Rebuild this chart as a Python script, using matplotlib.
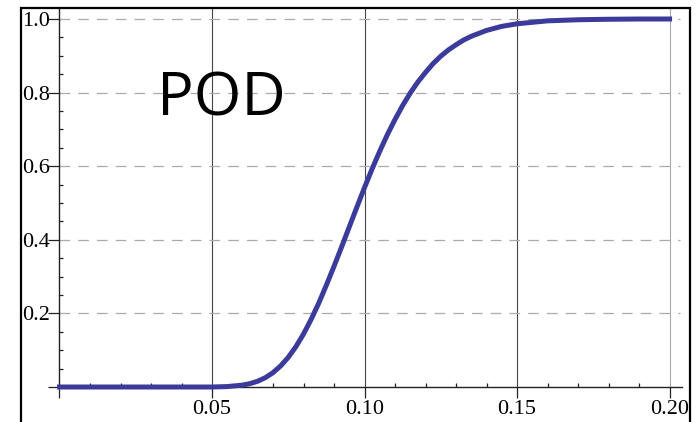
import matplotlib
matplotlib.use("Agg")
import matplotlib.pyplot as plt
from matplotlib.patches import Rectangle
from matplotlib.ticker import FixedLocator

# POD curve, values
size = [0.0, 0.05, 0.055, 0.06, 0.0625, 0.065, 0.0675, 0.07, 0.0725, 0.075,
        0.0775, 0.08, 0.0825, 0.085, 0.0875, 0.09, 0.0925, 0.095, 0.0975,
        0.10, 0.1025, 0.105, 0.1075, 0.11, 0.1125, 0.115, 0.1175, 0.12,
        0.1225, 0.125, 0.1275, 0.13, 0.1325, 0.135, 0.14, 0.145, 0.15,
        0.16, 0.17, 0.18, 0.19, 0.20]
pod = [0.0, 0.0, 0.0012, 0.0051, 0.0093, 0.0158, 0.0255, 0.039, 0.0573, 0.0806,
       0.1096, 0.144, 0.184, 0.228, 0.277, 0.328, 0.381, 0.435, 0.489,
       0.542, 0.593, 0.641, 0.686, 0.727, 0.765, 0.799, 0.829, 0.855,
       0.879, 0.899, 0.916, 0.930, 0.943, 0.953, 0.969, 0.980, 0.987,
       0.995, 0.998, 0.9993, 1.0, 1.0]

x_major = [0.0, 0.05, 0.10, 0.15, 0.20]
x_labels = ["", "0.05", "0.10", "0.15", "0.20"]
x_minor = [0.01, 0.02, 0.03, 0.04, 0.06, 0.07, 0.08, 0.09, 0.11, 0.12,
           0.13, 0.14, 0.16, 0.17, 0.18, 0.19]
y_major = [0.0, 0.2, 0.4, 0.6, 0.8, 1.0]
y_labels = ["", "0.2", "0.4", "0.6", "0.8", "1.0"]
y_minor = [0.05, 0.1, 0.15, 0.25, 0.3, 0.35, 0.45, 0.5, 0.55,
           0.65, 0.7, 0.75, 0.85, 0.9, 0.95]

W, H = 696, 422
fig = plt.figure(figsize=(W / 100, H / 100), dpi=100)
ax = fig.add_axes([21 / W, 0, 669 / W, 414 / H])
ax.set_xlim(-0.01262, 0.2067)
ax.set_ylim(-0.0951, 1.0299)

# grid: solid verticals, dashed horizontals, only inside the first quadrant
ax.vlines(x_major[1:4], 0, 1.04, colors="#444444", lw=0.8, zorder=1)
ax.vlines(x_major[4], 0, 1.04, colors="#aaaaaa", lw=0.8, zorder=1)
ax.hlines(y_major[1:], 0, 0.2034, colors="#aaaaaa", lw=0.9,
          linestyles=(0, (8.5, 6.5)), zorder=1)

ax.plot(size, pod, color="#3b3b9b", lw=3.6, solid_capstyle="projecting",
        zorder=3)

ax.text(0.032, 0.739, "POD", fontsize=44, family="Open Sans",
        ha="left", va="baseline", zorder=4)

# axes through the origin
for side in ("top", "right"):
    ax.spines[side].set_visible(False)
ax.spines["left"].set_position(("data", 0))
ax.spines["bottom"].set_position(("data", 0))
ax.spines["left"].set_bounds(0, 1.0299)
ax.spines["bottom"].set_bounds(0, 0.2041)
for side in ("left", "bottom"):
    ax.spines[side].set_color("#222222")
    ax.spines[side].set_linewidth(1.0)

ax.xaxis.set_major_locator(FixedLocator(x_major))
ax.xaxis.set_minor_locator(FixedLocator(x_minor))
ax.set_xticklabels(x_labels)
ax.yaxis.set_major_locator(FixedLocator(y_major))
ax.yaxis.set_minor_locator(FixedLocator(y_minor))
ax.set_yticklabels(y_labels)

ax.tick_params(which="major", direction="out", length=8, width=0.9,
               color="#222222", labelsize=16)
ax.tick_params(which="minor", direction="in", length=3.2, width=0.9,
               color="#222222")
ax.tick_params(axis="x", which="major", pad=1)
ax.tick_params(axis="y", which="major", pad=-1.5)
for lab in ax.get_xticklabels() + ax.get_yticklabels():
    lab.set_family("Liberation Serif")

# outer frame, open at the bottom edge of the picture
fig.add_artist(Rectangle((21 / W, -0.05), 669 / W, 414 / H + 0.05,
                         transform=fig.transFigure, fill=False,
                         lw=1.6, ec="black"))

fig.savefig("out.png", dpi=100)
